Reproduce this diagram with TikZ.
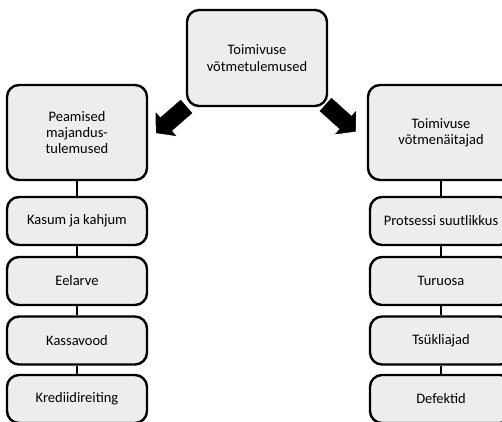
\documentclass[tikz,border=0pt]{standalone}
\usepackage{fontspec}
\setmainfont{Carlito}
\definecolor{boxfill}{HTML}{EDEDED}
\begin{document}
\begin{tikzpicture}[x=1pt,y=-1pt,
  box/.style={draw=black, line width=2.4pt, fill=boxfill, rounded corners=12pt,
    inner sep=2pt, align=center, font=\fontsize{14.5}{16.3}\selectfont},
  bigbox/.style={box, minimum width=140pt, minimum height=95pt},
  smallbox/.style={box, minimum width=140pt, minimum height=48pt},
  link/.style={line width=2.4pt},
  blockarrow/.style={fill=black, draw=white, line width=1pt}]
\useasboundingbox (0,0) rectangle (502,421);

% top level
\node[bigbox, minimum height=96pt] (top) at (257,58) {Toimivuse\\võtmetulemused};

% left branch
\node[bigbox] (lbig) at (77,132.5) {Peamised\\majandus-\\tulemused};
\node[smallbox] (l1) at (77,221) {Kasum ja kahjum};
\node[smallbox] (l2) at (77,281) {Eelarve};
\node[smallbox] (l3) at (77,340.5) {Kassavood};
\node[smallbox] (l4) at (77,399) {Krediidireiting};

% right branch
\node[bigbox, minimum width=146pt] (rbig) at (441,132.5) {Toimivuse\\võtmenäitajad};
\node[smallbox, minimum width=142pt] (r1) at (441,221) {Protsessi suutlikkus};
\node[smallbox, minimum width=142pt] (r2) at (441,281) {Turuosa};
\node[smallbox, minimum width=142pt] (r3) at (441,340.5) {Tsükliajad};
\node[smallbox, minimum width=142pt] (r4) at (441,399) {Defektid};

% vertical links
\draw[link] (lbig.south) -- (l1.north);
\draw[link] (l1.south) -- (l2.north);
\draw[link] (l2.south) -- (l3.north);
\draw[link] (l3.south) -- (l4.north);
\draw[link] (rbig.south) -- (r1.north);
\draw[link] (r1.south) -- (r2.north);
\draw[link] (r2.south) -- (r3.north);
\draw[link] (r3.south) -- (r4.north);

% block arrows from the top box to both branches
\coordinate (la) at (187,106);
\coordinate (ra) at (325,104);
\begin{scope}[shift={(la)}, rotate=-139]
  \path[blockarrow] (0,-9.5) -- (27,-9.5) -- (27,-17.5) -- (42,0) -- (27,17.5) -- (27,9.5) -- (0,9.5) -- cycle;
\end{scope}
\begin{scope}[shift={(ra)}, rotate=-42]
  \path[blockarrow] (0,-9.5) -- (27,-9.5) -- (27,-17.5) -- (42,0) -- (27,17.5) -- (27,9.5) -- (0,9.5) -- cycle;
\end{scope}
\end{tikzpicture}
\end{document}
